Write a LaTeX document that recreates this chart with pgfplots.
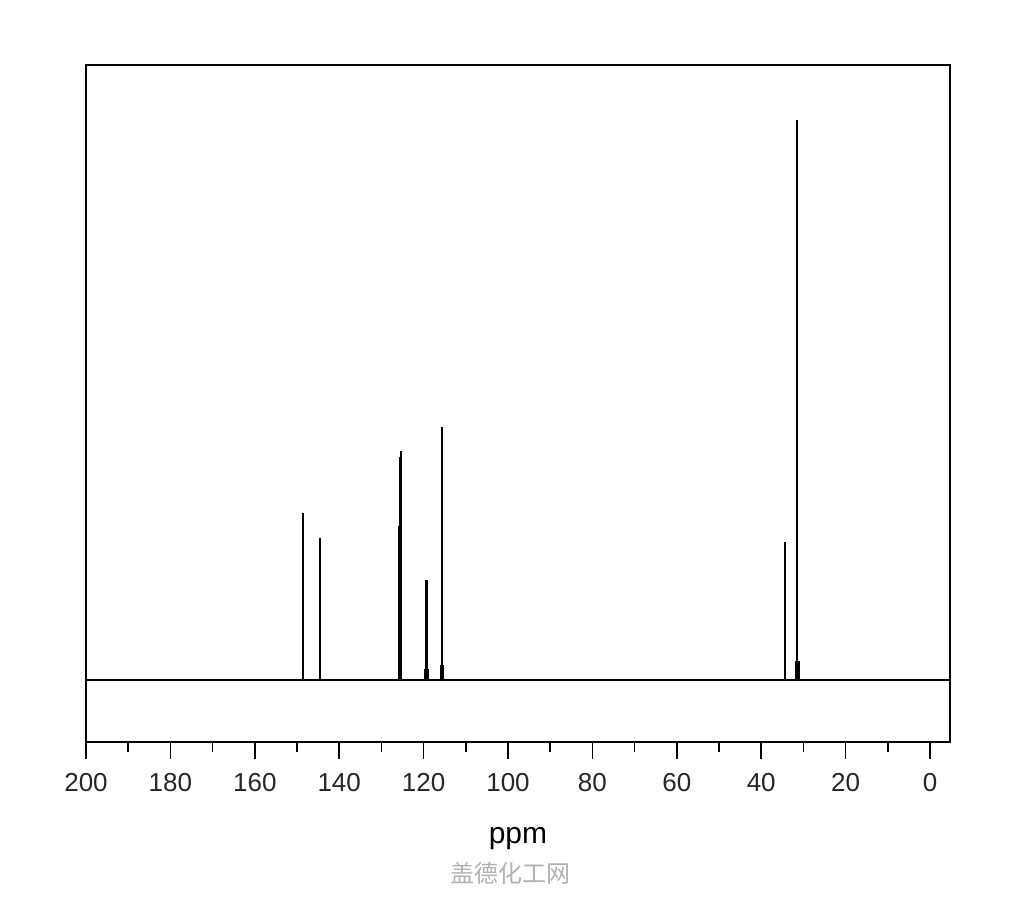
\documentclass[border=0pt]{standalone}
\usepackage{fontspec}
\setmainfont{Liberation Sans}
\newfontfamily\cjk{Noto Sans CJK SC}
\usepackage{pgfplots}
\pgfplotsset{compat=1.18}
\begin{document}
\begin{tikzpicture}
\begin{axis}[
  scale only axis, width=432pt, height=338.5pt,
  x dir=reverse, xmin=-4.73, xmax=200, ymin=-62, ymax=615,
  xtick={0,20,...,200}, minor x tick num=1,
  ytick=\empty,
  xtick pos=left, tick align=outside,
  major tick length=8.5pt, minor tick length=5pt,
  every tick/.style={black, line width=0.8pt},
  axis line style={line width=0.8pt},
  xticklabel style={font=\fontsize{13}{15}\selectfont, text=black!85, yshift=-3.5pt},
  /pgf/number format/assume math mode=true,
  xlabel={ppm}, xlabel style={font=\fontsize{15}{17}\selectfont, yshift=-11pt},
]
\coordinate (sw) at (rel axis cs:0,0);
\coordinate (ne) at (rel axis cs:1,1);
% baseline
\addplot[black, line width=1pt] coordinates {(-4.73,0) (200,0)};
% peaks
\addplot[ycomb, black, line width=1.2pt, mark=none] coordinates {
  (148.6,167) (144.5,142) (125.75,154) (125.5,223) (125.35,229)
  (119.3,100) (115.6,253) (34.3,138) (31.5,560)
};
% small shoulders at peak bases
\addplot[ycomb, black, line width=2.2pt, mark=none] coordinates {
  (119.3,11) (115.6,15) (31.4,19)
};
\end{axis}
\node[text=black!30, font=\cjk\fontsize{12}{14}\selectfont] at ([shift={(212pt,-65.5pt)}]sw) {盖德化工网};
\pgfresetboundingbox
\path ([shift={(-43pt,-79pt)}]sw) rectangle ([shift={(37pt,32.5pt)}]ne);
\end{tikzpicture}
\end{document}
